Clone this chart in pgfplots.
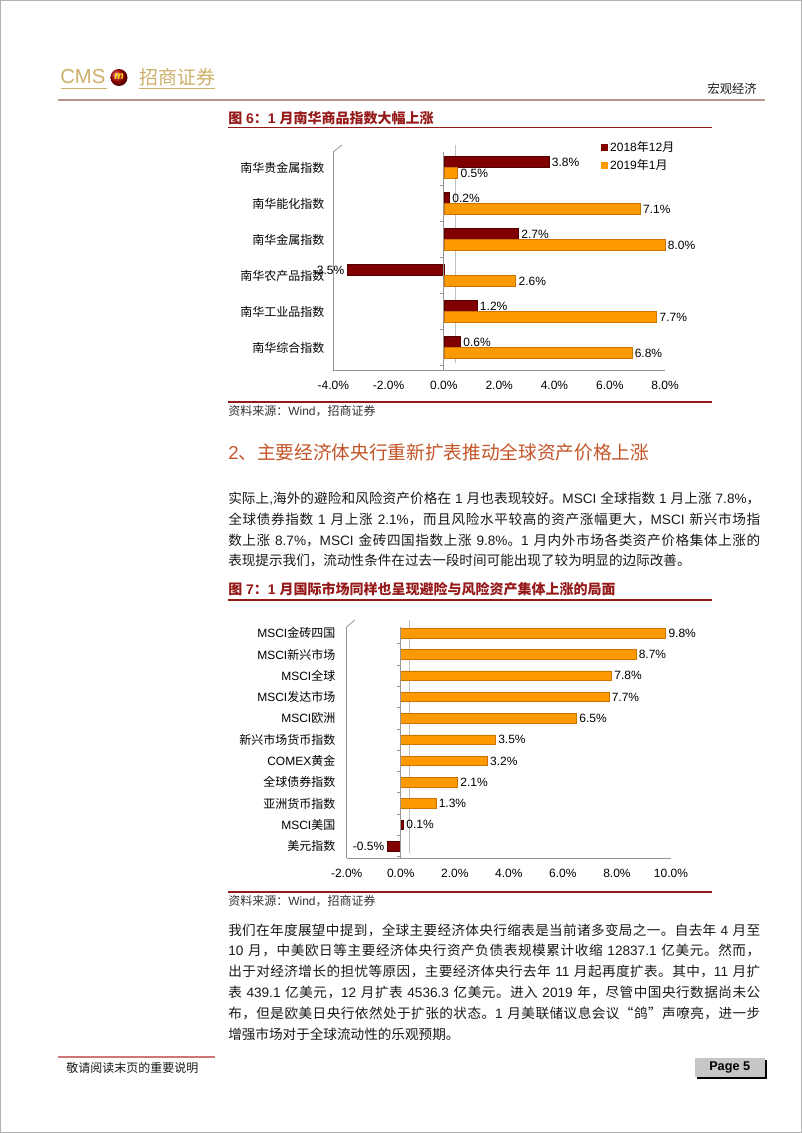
\documentclass[border=0pt]{standalone}
\usepackage{fontspec}
\usepackage{pgfplots}
\pgfplotsset{compat=1.18}
\setmainfont{Liberation Sans}
\newfontfamily\cjk{Noto Sans CJK SC}
\newfontfamily\lat{Liberation Sans}

% switch to the CJK font for Chinese characters, back to Liberation Sans otherwise
\XeTeXinterchartokenstate=1
\newXeTeXintercharclass\CJKcls
\newcount\cc
\def\setcls#1#2{\cc=#1 \loop\XeTeXcharclass\cc=\CJKcls\relax\ifnum\cc<#2 \advance\cc by 1 \repeat}
\setcls{"4E00}{"9FFF}
\setcls{"3000}{"303F}
\setcls{"FF00}{"FFEF}
\XeTeXcharclass"201C=\CJKcls
\XeTeXcharclass"201D=\CJKcls
\XeTeXinterchartoks 0 \CJKcls = {\cjk}
\XeTeXinterchartoks 4095 \CJKcls = {\cjk}
\XeTeXinterchartoks \CJKcls 0 = {\lat}
\XeTeXinterchartoks \CJKcls 4095 = {\lat}
\XeTeXinterchartoks \CJKcls \CJKcls = {\hskip 0pt plus 0.8pt minus 0.2pt}

\definecolor{gold}{RGB}{205,175,105}
\definecolor{hdr}{RGB}{185,150,140}
\definecolor{titred}{RGB}{150,25,25}
\definecolor{headc}{RGB}{195,85,40}
\definecolor{dred}{RGB}{128,0,0}
\definecolor{dredE}{RGB}{85,0,0}
\definecolor{org}{RGB}{255,153,0}
\definecolor{orgE}{RGB}{205,115,0}
\definecolor{wall}{RGB}{150,150,150}
\definecolor{footc}{RGB}{205,120,120}
\definecolor{txt}{RGB}{25,25,25}

\newcommand\jl[2]{\node[anchor=west,inner sep=0pt,text=txt] at (228,#1) {\fontsize{10.2}{10.2}\selectfont\hbox to 399pt{#2}};}
\newcommand\nl[2]{\node[anchor=west,inner sep=0pt,text=txt] at (228,#1) {\fontsize{10.2}{10.2}\selectfont #2};}

\pgfplotsset{
  hbars/.style={
    scale only axis, xbar, clip=false,
    axis x line*=bottom, axis y line*=left,
    axis line style={wall, line width=0.6pt},
    major tick length=0pt,
    xticklabel={\pgfmathprintnumber[fixed,fixed zerofill,precision=1,assume math mode=true]{\tick}\%},
    tick label style={font=\fontsize{9}{9}\selectfont},
    xticklabel style={yshift=-4.5pt},
    point meta=x,
    nodes near coords={\pgfmathprintnumber[fixed,fixed zerofill,precision=1,assume math mode=true]{\pgfplotspointmeta}\%},
    every node near coord/.append style={font=\fontsize{9}{9}\selectfont, inner sep=2pt},
  }
}

\begin{document}
\begin{tikzpicture}[x=0.75pt,y=-0.75pt]
\useasboundingbox (0,0) rectangle (802,1133);
\fill[white] (0,0) rectangle (802,1133);
\draw[gray!60, line width=0.75pt] (0.5,0.5) rectangle (801.5,1132.5);

% header
\node[anchor=west,inner sep=0pt,text=gold] at (60,76.5) {\fontsize{15.2}{15.2}\selectfont CMS};
\shade[ball color=red!75!black] (119,77.5) circle (8.5);
\node[text=yellow!85!orange,font=\bfseries\itshape\fontsize{8}{8}\selectfont] at (119,77) {m};
\node[anchor=west,inner sep=0pt,text=gold] at (139,77) {\fontsize{14.2}{14.2}\selectfont 招商证券};
\draw[gold, line width=0.9pt] (60.7,88.5) -- (106.7,88.5) (139,88.5) -- (215,88.5);
\node[anchor=east,inner sep=0pt,text=txt] at (757,89) {\fontsize{9.2}{9.2}\selectfont 宏观经济};
\draw[hdr, line width=0.8pt] (58,100) -- (765,100);

% figure 6
\node[anchor=west,inner sep=0pt,text=titred,font=\bfseries\fontsize{10.5}{10.5}\selectfont] at (228,118) {图 6：1 月南华商品指数大幅上涨};
\draw[titred, line width=1.2pt] (228,127.5) -- (712,127.5);
\draw[wall, line width=0.6pt] (333.3,152) -- (342,145);
\draw[wall!60, line width=0.6pt] (455,145) -- (455,363);

\begin{axis}[hbars,
  at={(249.98pt,-114pt)}, anchor=north west,
  width=248.8pt, height=163.5pt,
  bar width=8.2pt,
  xmin=-4, xmax=8, ymin=-0.625, ymax=5.43,
  xtick={-4,-2,0,2,4,6,8}, ytick={0,...,5},
  yticklabels={南华综合指数,南华工业品指数,南华农产品指数,南华金属指数,南华能化指数,南华贵金属指数},
  yticklabel style={xshift=-3.2pt},
  legend style={at={(0.805,1.06)}, anchor=north west, draw=none, fill=none,
    font=\fontsize{9}{9}\selectfont, row sep=0pt, inner sep=0pt},
  legend cell align=left,
  legend image code/.code={\fill[#1,draw=none] (0pt,-2.6pt) rectangle (5.2pt,2.6pt);},
]
\addplot[fill=dred, draw=dredE, bar shift=4.1pt] coordinates {(0.6,0) (1.2,1) (-3.5,2) (2.7,3) (0.2,4) (3.8,5)};
\addplot[fill=org, draw=orgE, bar shift=-4.1pt] coordinates {(6.8,0) (7.7,1) (2.6,2) (8.0,3) (7.1,4) (0.5,5)};
\legend{2018年12月,2019年1月}
\draw[wall, line width=0.6pt] (axis cs:0,-0.625) -- (axis cs:0,5.43);
\pgfplotsinvokeforeach{-0.5,0.5,1.5,2.5,3.5,4.5}{\draw[wall, line width=0.6pt] (axis cs:0,#1) -- ++(-3pt,0pt);}
\end{axis}

\draw[titred, line width=1.2pt] (228,401.7) -- (712,401.7);
\node[anchor=west,inner sep=0pt,text=black!80] at (228,410.7) {\fontsize{9}{9}\selectfont 资料来源：Wind，招商证券};

% section 2
\node[anchor=west,inner sep=0pt,text=headc] at (228,452.5) {\fontsize{14}{14}\selectfont 2、主要经济体央行重新扩表推动全球资产价格上涨};
\jl{499}{实际上,海外的避险和风险资产价格在 1 月也表现较好。MSCI 全球指数 1 月上涨 7.8\%，}
\jl{519.5}{全球债券指数 1 月上涨 2.1\%，而且风险水平较高的资产涨幅更大，MSCI 新兴市场指}
\jl{540}{数上涨 8.7\%，MSCI 金砖四国指数上涨 9.8\%。1 月内外市场各类资产价格集体上涨的}
\nl{560.5}{表现提示我们，流动性条件在过去一段时间可能出现了较为明显的边际改善。}

% figure 7
\node[anchor=west,inner sep=0pt,text=titred,font=\bfseries\fontsize{10.5}{10.5}\selectfont] at (228,589) {图 7：1 月国际市场同样也呈现避险与风险资产集体上涨的局面};
\draw[titred, line width=1.2pt] (228,600) -- (712,600);
\draw[wall, line width=0.6pt] (346.7,626.7) -- (355,620);
\draw[wall!60, line width=0.6pt] (409,620) -- (409,853);

\begin{axis}[hbars,
  at={(260.03pt,-470.03pt)}, anchor=north west,
  width=243.2pt, height=173.5pt,
  bar width=7.1pt, bar shift=0pt,
  xmin=-2, xmax=10, ymin=-0.563, ymax=10.3,
  xtick={-2,0,2,4,6,8,10}, ytick={0,...,10},
  yticklabels={美元指数,MSCI美国,亚洲货币指数,全球债券指数,COMEX黄金,新兴市场货币指数,MSCI欧洲,MSCI发达市场,MSCI全球,MSCI新兴市场,MSCI金砖四国},
  yticklabel style={xshift=-5pt},
]
\addplot[fill=org, draw=orgE] coordinates {(1.3,2) (2.1,3) (3.2,4) (3.5,5) (6.5,6) (7.7,7) (7.8,8) (8.7,9) (9.8,10)};
\addplot[fill=dred, draw=dredE] coordinates {(-0.5,0) (0.1,1)};
\draw[wall, line width=0.6pt] (axis cs:0,-0.563) -- (axis cs:0,10.3);
\pgfplotsinvokeforeach{-0.5,0.5,1.5,2.5,3.5,4.5,5.5,6.5,7.5,8.5,9.5}{\draw[wall, line width=0.6pt] (axis cs:0,#1) -- ++(-3pt,0pt);}
\end{axis}

\draw[titred, line width=1.2pt] (228,891.7) -- (712,891.7);
\node[anchor=west,inner sep=0pt,text=black!80] at (228,900.7) {\fontsize{9}{9}\selectfont 资料来源：Wind，招商证券};

\jl{930}{我们在年度展望中提到，全球主要经济体央行缩表是当前诸多变局之一。自去年 4 月至}
\jl{950.8}{10 月，中美欧日等主要经济体央行资产负债表规模累计收缩 12837.1 亿美元。然而，}
\jl{971.6}{出于对经济增长的担忧等原因，主要经济体央行去年 11 月起再度扩表。其中，11 月扩}
\jl{992.4}{表 439.1 亿美元，12 月扩表 4536.3 亿美元。进入 2019 年，尽管中国央行数据尚未公}
\jl{1013.2}{布，但是欧美日央行依然处于扩张的状态。1 月美联储议息会议“鸽”声嘹亮，进一步}
\nl{1034}{增强市场对于全球流动性的乐观预期。}

% footer
\draw[footc, line width=0.8pt] (58,1057) -- (215,1057);
\node[anchor=west,inner sep=0pt,text=txt] at (66,1068) {\fontsize{9}{9}\selectfont 敬请阅读末页的重要说明};
\fill[black] (697,1060) rectangle (766.5,1079);
\fill[gray!45] (695,1058) rectangle (764.5,1077);
\node[font=\bfseries\fontsize{9.5}{9.5}\selectfont] at (729.7,1067.5) {Page 5};
\end{tikzpicture}
\end{document}
